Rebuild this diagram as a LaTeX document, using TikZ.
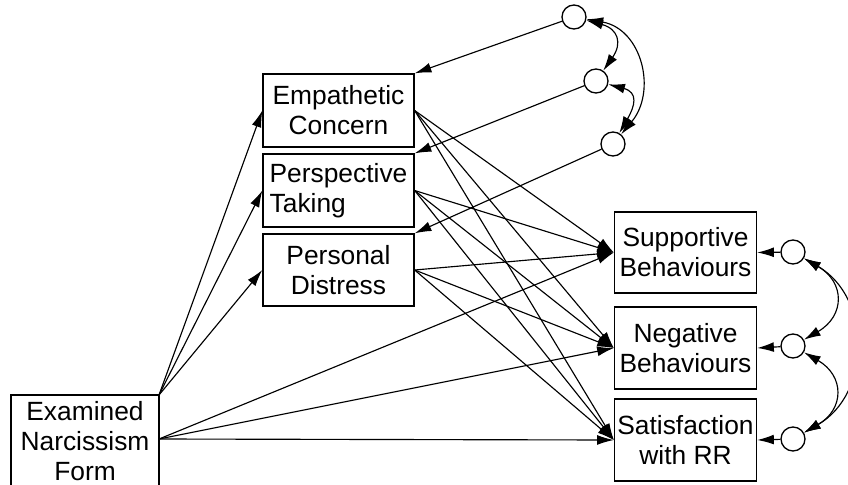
\documentclass[tikz,border=0pt]{standalone}
\usepackage{fontspec}
\setmainfont{Liberation Sans}
\usetikzlibrary{arrows.meta}
\begin{document}
\begin{tikzpicture}[x=0.02cm,y=-0.02cm,
  box/.style={draw,line width=0.75pt,inner sep=0pt,align=center,
    font=\fontsize{15}{17}\selectfont},
  err/.style={draw,circle,line width=0.75pt,minimum size=24*0.02cm,inner sep=0pt},
  path/.style={line width=0.65pt,-{Latex[length=9.5pt,width=5.6pt]}},
  cov/.style={line width=0.65pt,{Latex[length=9.5pt,width=5.6pt]}-{Latex[length=9.5pt,width=5.6pt]}}]
\useasboundingbox (0,0) rectangle (848,484);
\begin{scope}
\clip (0,0) rectangle (848,484);
% observed variables
\node[box,minimum width=148*0.02cm,minimum height=92*0.02cm] (enf) at (85,441) {Examined\\Narcissism\\Form};
\end{scope}
\node[box,minimum width=151*0.02cm,minimum height=73*0.02cm] (ec) at (338.5,110.5) {Empathetic\\Concern};
\node[box,minimum width=151*0.02cm,minimum height=73*0.02cm,align=left] (pt) at (338.5,190.5) {Perspective\\Taking};
\node[box,minimum width=151*0.02cm,minimum height=72*0.02cm] (pd) at (338.5,270) {Personal\\Distress};
\node[box,minimum width=142*0.02cm,minimum height=81*0.02cm] (sb) at (685.5,252.5) {Supportive\\Behaviours};
\node[box,minimum width=142*0.02cm,minimum height=82*0.02cm] (nb) at (685.5,348) {Negative\\Behaviours};
\node[box,minimum width=142*0.02cm,minimum height=82*0.02cm] (sat) at (685.5,440) {Satisfaction\\with RR};
% residual terms
\node[err] (e1) at (574,17) {};
\node[err] (e2) at (596,81) {};
\node[err] (e3) at (613,144) {};
\node[err] (r1) at (793,252) {};
\node[err] (r2) at (793,346) {};
\node[err] (r3) at (793,439) {};
% paths from narcissism
\coordinate (enfc) at (159,395);
\coordinate (enfr) at (159,439);
\foreach \t in {ec,pt,pd} \draw[path] (enfc) -- (\t.west);
\foreach \t in {sb,nb,sat} \draw[path] (enfr) -- (\t.west);
% paths from empathy facets to outcomes
\foreach \s in {ec,pt,pd}
  \foreach \t in {sb,nb,sat}
    \draw[path] (\s.east) -- (\t.west);
% residuals
\draw[path] (e1) -- (ec.north east);
\draw[path] (e2) -- (pt.north east);
\draw[path] (e3) -- (pd.north east);
\draw[path] (r1) -- (sb.east);
\draw[path] (r2) -- (nb.east);
\draw[path] (r3) -- (sat.east);
% residual covariances
\draw[cov] (e1) to[out=-15,in=55,looseness=1.6] (e2);
\draw[cov] (e2) to[out=-15,in=60,looseness=1.6] (e3);
\draw[cov] (e1) to[out=-10,in=50,looseness=1.2] (e3);
\draw[cov] (r1) to[out=-30,in=30,looseness=1.5] (r2);
\draw[cov] (r2) to[out=-30,in=30,looseness=1.5] (r3);
\draw[cov] (r1) to[out=-30,in=30,looseness=1.15] (r3);
\end{tikzpicture}
\end{document}
